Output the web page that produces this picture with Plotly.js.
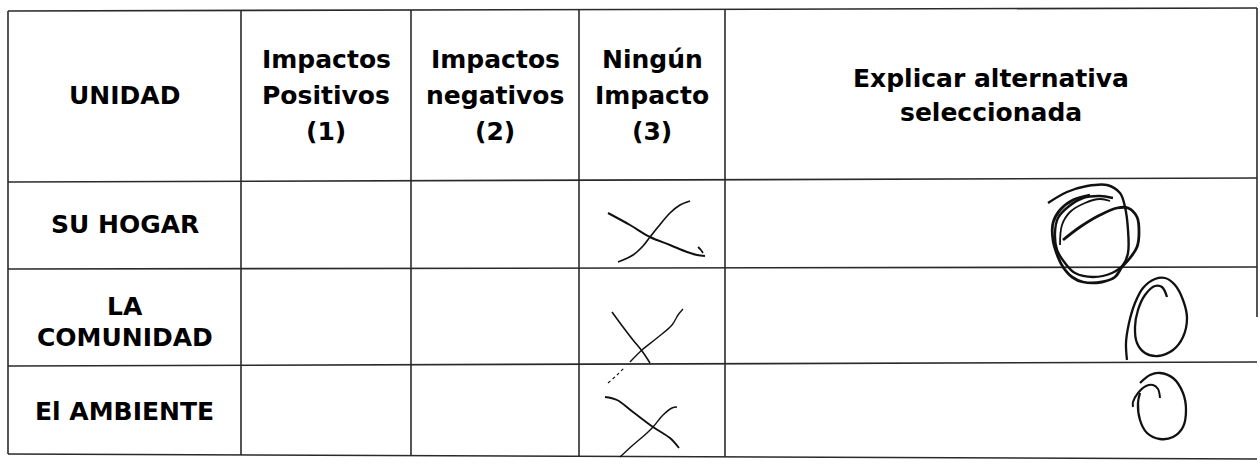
<!DOCTYPE html>
<html>
<head>
<meta charset="utf-8">
<script src="https://cdn.plot.ly/plotly-3.0.1.min.js"></script>
<style>
  html, body { margin: 0; padding: 0; background: #ffffff; }
  #chart { width: 1260px; height: 465px; }
</style>
</head>
<body>
<div id="chart"></div>
<script>
// ---------------- DATA ----------------
// Column headers, one entry per text line
const headerCol1 = ["UNIDAD"];
const headerCol2 = ["Impactos", "Positivos", "(1)"];
const headerCol3 = ["Impactos", "negativos", "(2)"];
const headerCol4 = ["Ningún", "Impacto", "(3)"];
const headerCol5 = ["Explicar alternativa", "seleccionada"];
// Row labels (units)
const rowHogar = ["SU HOGAR"];
const rowComunidad = ["LA", "COMUNIDAD"];
const rowAmbiente = ["El AMBIENTE"];

// Table ruling lines (page pixel coordinates of the scan)
const colEdges = [8, 241, 411, 579, 725, 1257];
const rowEdgesLeft = [11, 182, 269, 366, 454];
const rowEdgesRight = [8, 178, 267, 362, 459];
const rightBorderEnd = [8, 317];

// Hand-drawn marks: "X" in column (3), circles in the explanation column
const xHogarA_x = [608, 630, 650, 670, 687, 697, 705];
const xHogarA_y = [213, 225, 237, 245, 252, 255, 256];
const xHogarB_x = [618, 633, 643, 650, 658, 670, 680, 690];
const xHogarB_y = [262, 255, 246, 237, 227, 213, 205, 201];
const xHogarHook_x = [698, 701, 703];
const xHogarHook_y = [247, 250, 253];

const xComunidadA_x = [612, 623, 633, 642, 650];
const xComunidadA_y = [312, 327, 340, 351, 363];
const xComunidadB_x = [630, 642, 657, 672, 678, 683];
const xComunidadB_y = [362, 350, 338, 325, 315, 309];
const xComunidadTail_x = [608, 617, 625];
const xComunidadTail_y = [383, 375, 367];

const xAmbienteA_x = [605, 617, 633, 653, 670, 679];
const xAmbienteA_y = [397, 400, 412, 427, 438, 448];
const xAmbienteB_x = [620, 633, 647, 653, 663, 672, 677];
const xAmbienteB_y = [457, 445, 433, 427, 415, 408, 407];

const circHogarA_x = [1048, 1067, 1087, 1107, 1120, 1125, 1128, 1128, 1123, 1112, 1093, 1075, 1065, 1057, 1055, 1058, 1068, 1083, 1100, 1113];
const circHogarA_y = [203, 192, 186, 185, 193, 207, 230, 253, 265, 273, 277, 273, 263, 250, 233, 218, 207, 198, 196, 198];
const circHogarB_x = [1063, 1080, 1100, 1117, 1128, 1137, 1139, 1137, 1130, 1122, 1115, 1102, 1083, 1072, 1063, 1058, 1053, 1053, 1060, 1073, 1090];
const circHogarB_y = [240, 227, 215, 208, 208, 217, 233, 247, 258, 267, 277, 282, 282, 277, 267, 257, 240, 223, 210, 200, 195];
const circHogarC_x = [1060, 1062, 1070, 1085, 1100, 1110];
const circHogarC_y = [245, 225, 212, 203, 199, 201];

const circComunidad_x = [1167, 1162, 1155, 1145, 1138, 1135, 1137, 1145, 1158, 1173, 1183, 1187, 1183, 1175, 1165, 1155, 1143, 1135, 1129, 1126, 1127];
const circComunidad_y = [297, 287, 286, 295, 310, 327, 343, 353, 356, 350, 337, 318, 300, 285, 278, 279, 288, 303, 323, 343, 360];

const circAmbienteHook_x = [1160, 1158, 1153, 1146, 1138, 1133, 1133];
const circAmbienteHook_y = [398, 389, 385, 386, 393, 402, 407];
const circAmbiente_x = [1140, 1150, 1160, 1173, 1183, 1186, 1183, 1173, 1160, 1147, 1140, 1138, 1140];
const circAmbiente_y = [383, 375, 373, 378, 393, 410, 427, 437, 439, 433, 420, 403, 393];

// ---------------- LAYOUT CONSTANTS ----------------
const HEADER_MID = 95;
const ROW_MIDS = [224, 322, 411];
const PITCH3 = 36, PITCH2 = 34, ROW_PITCH = 31;
const FONT = { family: "DejaVu Sans", size: 25, color: "#000000", weight: "bold" };
const INK = "#111111";

// ---------------- BUILD ----------------
const x0 = colEdges[0], x1 = colEdges[colEdges.length - 1];
function yAt(i, x) {
  return rowEdgesLeft[i] + (rowEdgesRight[i] - rowEdgesLeft[i]) * (x - x0) / (x1 - x0);
}

// grid lines
const gx = [], gy = [];
for (let i = 0; i < rowEdgesLeft.length; i++) {
  gx.push(x0, x1, null);
  gy.push(rowEdgesLeft[i], rowEdgesRight[i], null);
}
for (let j = 0; j < colEdges.length - 1; j++) {
  const c = colEdges[j];
  gx.push(c, c, null);
  gy.push(yAt(0, c), yAt(rowEdgesLeft.length - 1, c), null);
}
gx.push(x1, x1, null);
gy.push(rightBorderEnd[0], rightBorderEnd[1], null);

const traces = [{
  type: "scatter", mode: "lines", x: gx, y: gy,
  line: { color: "#2a2a2a", width: 1.6 }, hoverinfo: "skip"
}];

function stroke(xs, ys, w, dash) {
  traces.push({
    type: "scatter", mode: "lines", x: xs, y: ys,
    line: { color: INK, width: w, shape: "spline", smoothing: 1, dash: dash || "solid" },
    hoverinfo: "skip"
  });
}
stroke(xHogarA_x, xHogarA_y, 2);
stroke(xHogarB_x, xHogarB_y, 1.7);
stroke(xHogarHook_x, xHogarHook_y, 1.7);
stroke(xComunidadA_x, xComunidadA_y, 1.6);
stroke(xComunidadB_x, xComunidadB_y, 1.4);
stroke(xComunidadTail_x, xComunidadTail_y, 1.2, "dot");
stroke(xAmbienteA_x, xAmbienteA_y, 1.9);
stroke(xAmbienteB_x, xAmbienteB_y, 1.4);
stroke(circHogarA_x, circHogarA_y, 2.4);
stroke(circHogarB_x, circHogarB_y, 2.8);
stroke(circHogarC_x, circHogarC_y, 1.8);
stroke(circComunidad_x, circComunidad_y, 2.3);
stroke(circAmbienteHook_x, circAmbienteHook_y, 2);
stroke(circAmbiente_x, circAmbiente_y, 2.3);

// text annotations
const annotations = [];
function block(lines, cx, cy, pitch) {
  const n = lines.length;
  lines.forEach((t, k) => {
    annotations.push({
      x: cx, y: cy + (k - (n - 1) / 2) * pitch, xref: "x", yref: "y",
      text: t, showarrow: false, xanchor: "center", yanchor: "middle",
      font: FONT
    });
  });
}
const headers = [headerCol1, headerCol2, headerCol3, headerCol4, headerCol5];
headers.forEach((h, j) => {
  const cx = (colEdges[j] + colEdges[j + 1]) / 2;
  block(h, cx, HEADER_MID, h.length === 3 ? PITCH3 : PITCH2);
});
const cx0 = (colEdges[0] + colEdges[1]) / 2;
[rowHogar, rowComunidad, rowAmbiente].forEach((r, i) => block(r, cx0, ROW_MIDS[i], ROW_PITCH));

const layout = {
  width: 1260, height: 465,
  margin: { l: 0, r: 0, t: 0, b: 0, pad: 0 },
  paper_bgcolor: "#ffffff", plot_bgcolor: "#ffffff",
  showlegend: false, hovermode: false,
  xaxis: { range: [0, 1260], visible: false, fixedrange: true },
  yaxis: { range: [465, 0], visible: false, fixedrange: true },
  annotations: annotations
};

Plotly.newPlot("chart", traces, layout, { staticPlot: true, displayModeBar: false });
</script>
</body>
</html>
